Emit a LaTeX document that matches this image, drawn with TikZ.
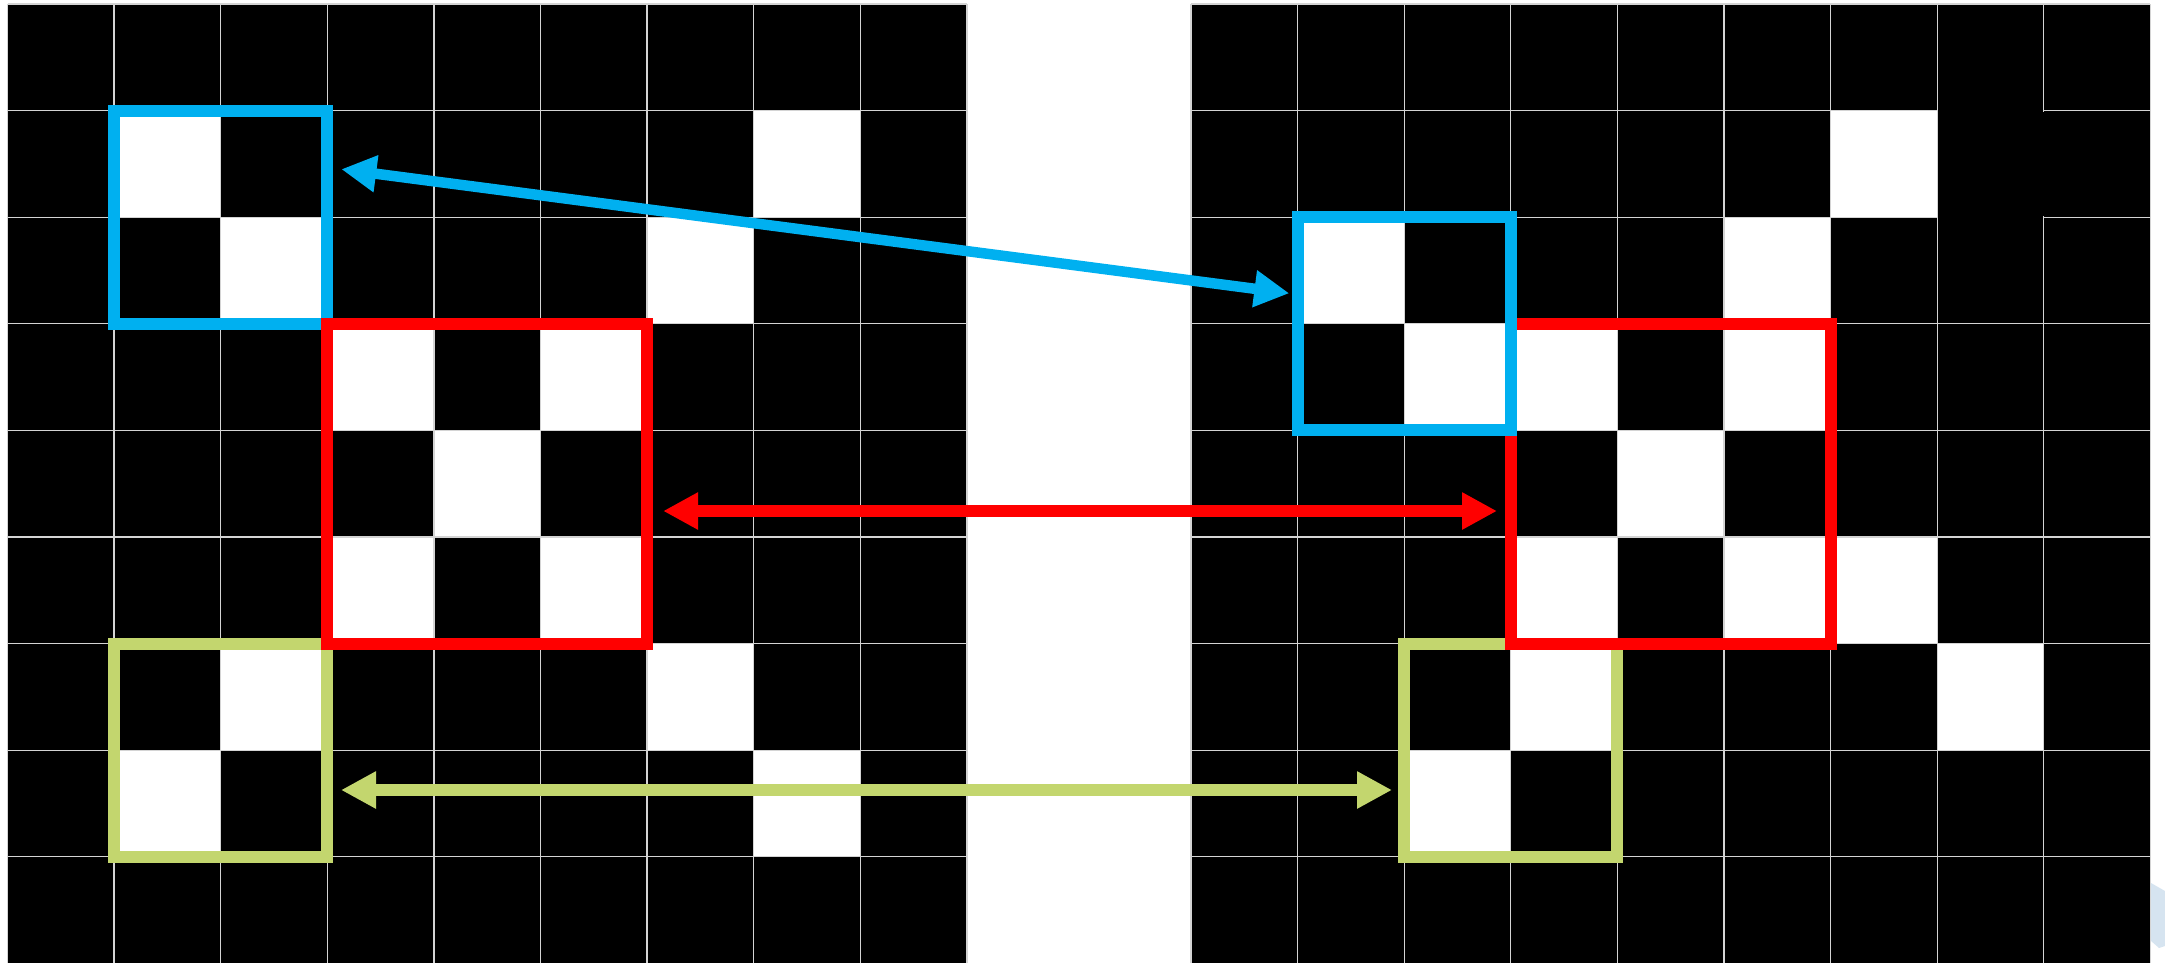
\documentclass[tikz,border=0pt]{standalone}
\usetikzlibrary{arrows.meta,calc}
\definecolor{cblue}{RGB}{0,176,240}
\definecolor{cred}{RGB}{255,0,0}
\definecolor{cgreen}{RGB}{195,214,110}
\definecolor{cgrid}{RGB}{212,212,212}
\definecolor{cwm}{RGB}{214,228,240}
\begin{document}
\begin{tikzpicture}[x=1pt,y=-1pt,
  gridline/.style={cgrid, line width=1.3pt},
  frame/.style={draw, line width=12pt, inner sep=0pt, outer sep=0pt, fill=none},
  bluebox/.style={frame, draw=cblue, minimum width=213.2pt, minimum height=213.2pt},
  greenbox/.style={frame, draw=cgreen, minimum width=213.2pt, minimum height=213.2pt},
  redbox/.style={frame, draw=cred, minimum width=319.8pt, minimum height=319.8pt},
  conn/.style={line width=11.5pt, {Triangle[length=35pt,width=35pt]}-{Triangle[length=35pt,width=35pt]}},
  bluearr/.style={conn, cblue, line width=10.5pt},
  redarr/.style={conn, cred},
  greenarr/.style={conn, cgreen},
]
\useasboundingbox (0,0) rectangle (2165,962);
% grids
\foreach \gx in {7.5,1191} {
  \fill[black] (\gx,4) rectangle ({\gx+9*106.6},{4+9*106.6});
}
% white cells, left grid
\foreach \c/\r in {1/1,7/1,2/2,6/2,3/3,5/3,4/4,3/5,5/5,2/6,6/6,1/7,7/7} {
  \fill[white] ({7.5+\c*106.6},{4+\r*106.6}) rectangle ({7.5+(\c+1)*106.6},{4+(\r+1)*106.6});
}
% white cells, right grid
\foreach \c/\r in {6/1,1/2,5/2,2/3,3/3,5/3,4/4,3/5,5/5,6/5,3/6,7/6,2/7} {
  \fill[white] ({1191+\c*106.6},{4+\r*106.6}) rectangle ({1191+(\c+1)*106.6},{4+(\r+1)*106.6});
}
% grid lines
\foreach \gx in {7.5,1191} \foreach \k in {0,...,9} {
  \draw[gridline] ({\gx+\k*106.6},4) -- ({\gx+\k*106.6},{4+9*106.6});
  \draw[gridline] (\gx,{4+\k*106.6}) -- ({\gx+9*106.6},{4+\k*106.6});
}
% merged black region in right grid (no lines)
\fill[black] (1938.3,109) rectangle (2042.7,112.2);
\fill[black] (1938.3,215.6) rectangle (2042.7,218.8);
\fill[black] (2042.2,111.9) rectangle (2045.4,216.0);
% watermark fragment
\fill[cwm] (2151,883) -- (2165,891) -- (2165,946) -- (2159,948) -- (2151,941) -- cycle;
% boxes, left
\node[bluebox]  (bL) at ({7.5+2*106.6},{4+2*106.6}) {};
\node[greenbox] (gL) at ({7.5+2*106.6},{4+7*106.6}) {};
\node[redbox]   (rL) at ({7.5+4.5*106.6},{4+4.5*106.6}) {};
% boxes, right
\node[greenbox] (gR) at ({1191+3*106.6},{4+7*106.6}) {};
\node[redbox]   (rR) at ({1191+4.5*106.6},{4+4.5*106.6}) {};
\node[bluebox]  (bR) at ({1191+2*106.6},{4+3*106.6}) {};
% arrow ends
\coordinate (b1) at ($(bL.east)+(14,-48)$);
\coordinate (b2) at ($(bR.west)+(-8.3,-30.5)$);
\coordinate (r1) at ($(rL.east)+(16,27.3)$);
\coordinate (r2) at ($(rR.west)+(-13.8,27.3)$);
\coordinate (g1) at ($(gL.east)+(13.7,39.8)$);
\coordinate (g2) at ($(gR.west)+(-12.2,39.8)$);
\draw[bluearr]  (b1) -- (b2);
\draw[redarr]   (r1) -- (r2);
\draw[greenarr] (g1) -- (g2);
\end{tikzpicture}
\end{document}
